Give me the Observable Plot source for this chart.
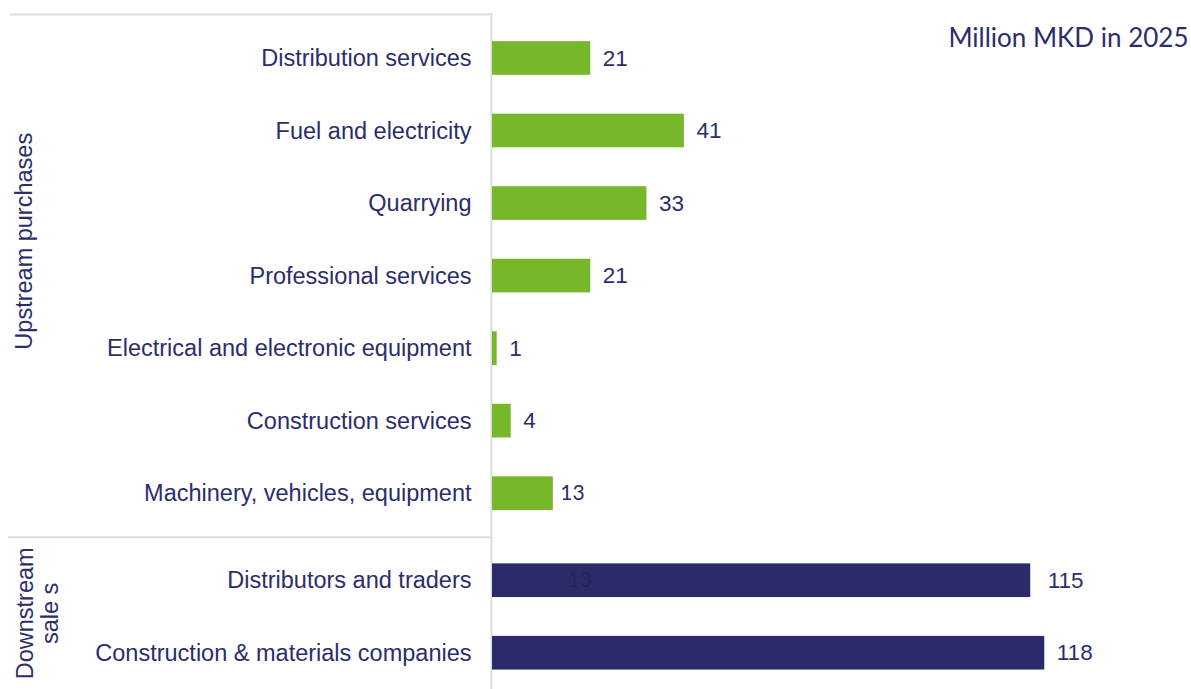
<!DOCTYPE html>
<html>
<head>
<meta charset="utf-8">
<script src="https://cdn.jsdelivr.net/npm/d3@7"></script>
<script src="https://cdn.jsdelivr.net/npm/@observablehq/plot@0.6"></script>
<style>
  html, body { margin: 0; padding: 0; background: #ffffff; }
  #chart svg { display: block; }
</style>
</head>
<body>
<div id="chart"></div>
<script>
// ---- Data ----
const upstreamCategories = [
  "Distribution services",
  "Fuel and electricity",
  "Quarrying",
  "Professional services",
  "Electrical and electronic equipment",
  "Construction services",
  "Machinery, vehicles, equipment"
];
const upstreamValues = [21, 41, 33, 21, 1, 4, 13];
const downstreamCategories = [
  "Distributors and traders",
  "Construction & materials companies"
];
const downstreamValues = [115, 118];
const groupLabels = ["Upstream purchases", "Downstream\nsale s"];
const unitLabel = "Million MKD in 2025";
const strayLabel = { text: "13", category: "Distributors and traders", value: 16 };

// ---- Build rows ----
const groupGap = 0.2;
const rows = [
  ...upstreamCategories.map((c, i) => ({ category: c, value: upstreamValues[i], group: "up", pos: i })),
  ...downstreamCategories.map((c, i) => ({ category: c, value: downstreamValues[i], group: "down", pos: upstreamCategories.length + i + groupGap }))
];
const half = 0.232;
const topPos = -0.62;
const bottomPos = rows[rows.length - 1].pos + 0.5;
const sepPos = upstreamCategories.length - 1 + (1 + groupGap) / 2;

const W = 1191, H = 689, mL = 492, mR = 11, mT = 13, mB = 0;
const xMax = 147;
const pxPerX = (W - mL - mR) / xMax;
const leftEdge = -(mL - 10) / pxPerX;

const navyText = "#2b2d6d";
const green = "#77b82a";
const navyBar = "#2d2a69";
const grid = "#dcdcdc";
const arial = "Liberation Sans, Arial, sans-serif";
const calibri = "Lato, Carlito, Calibri, sans-serif";

const pos = Object.fromEntries(rows.map(r => [r.category, r.pos]));
const smallLabelCat = "Machinery, vehicles, equipment";
const wideLabelCat = "Distributors and traders";
const normalLabels = rows.filter(d => d.category !== smallLabelCat && d.category !== wideLabelCat);

const valueText = (data, dx, opts = {}) => Plot.text(data, {
  x: "value", y: "pos", text: d => String(d.value), dx,
  textAnchor: "start", fill: navyText, fontSize: 22.5, fontFamily: arial, ...opts
});

const plot = Plot.plot({
  width: W, height: H,
  marginLeft: mL, marginRight: mR, marginTop: mT, marginBottom: mB,
  x: { domain: [0, xMax], axis: null },
  y: { domain: [topPos, bottomPos], reverse: true, axis: null },
  style: { background: "#ffffff", overflow: "visible" },
  marks: [
    // frame lines
    Plot.ruleY([topPos], { x1: leftEdge, x2: 0, stroke: grid, strokeWidth: 2, dy: 1 }),
    Plot.ruleY([sepPos], { x1: leftEdge - 0.4, x2: 0, stroke: grid, strokeWidth: 2 }),
    Plot.ruleX([0], { stroke: grid, strokeWidth: 2, dx: -1 }),
    // bars
    Plot.rectX(rows, {
      x1: 0, x2: "value",
      y1: d => d.pos - half, y2: d => d.pos + half,
      fill: d => d.group === "up" ? green : navyBar
    }),
    // category labels
    Plot.text(rows, {
      y: "pos", text: "category", frameAnchor: "left", dx: -21,
      textAnchor: "end", fill: navyText, fontSize: 23.5, fontFamily: arial
    }),
    // value labels
    valueText(normalLabels, 12),
    valueText(rows.filter(d => d.category === wideLabelCat), 17),
    valueText(rows.filter(d => d.category === smallLabelCat), 7, { fontSize: 21, fontFamily: calibri }),
    // stray label drawn inside a navy bar
    Plot.text([strayLabel], {
      x: "value", y: d => pos[d.category], text: "text", textAnchor: "start",
      fill: "#24235f", fontSize: 21, fontFamily: calibri
    }),
    // group labels (rotated)
    Plot.text([{ label: groupLabels[0], p: (topPos + sepPos) / 2 - 0.47 }], {
      y: "p", text: "label", frameAnchor: "left", dx: -(mL - 24), rotate: -90,
      textAnchor: "middle", fill: navyText, fontSize: 23.5, fontFamily: arial
    }),
    Plot.text([{ label: groupLabels[1], p: (sepPos + bottomPos) / 2 }], {
      y: "p", text: "label", frameAnchor: "left", dx: -(mL - 37), rotate: -90,
      textAnchor: "middle", lineHeight: 1.05, fill: navyText, fontSize: 23.5, fontFamily: arial
    }),
    // unit label
    Plot.text([unitLabel], {
      frameAnchor: "top-right", dx: 8, dy: 25, textAnchor: "end", lineAnchor: "middle",
      fill: navyText, fontSize: 26, fontFamily: calibri
    })
  ]
});
document.getElementById("chart").appendChild(plot);
</script>
</body>
</html>
